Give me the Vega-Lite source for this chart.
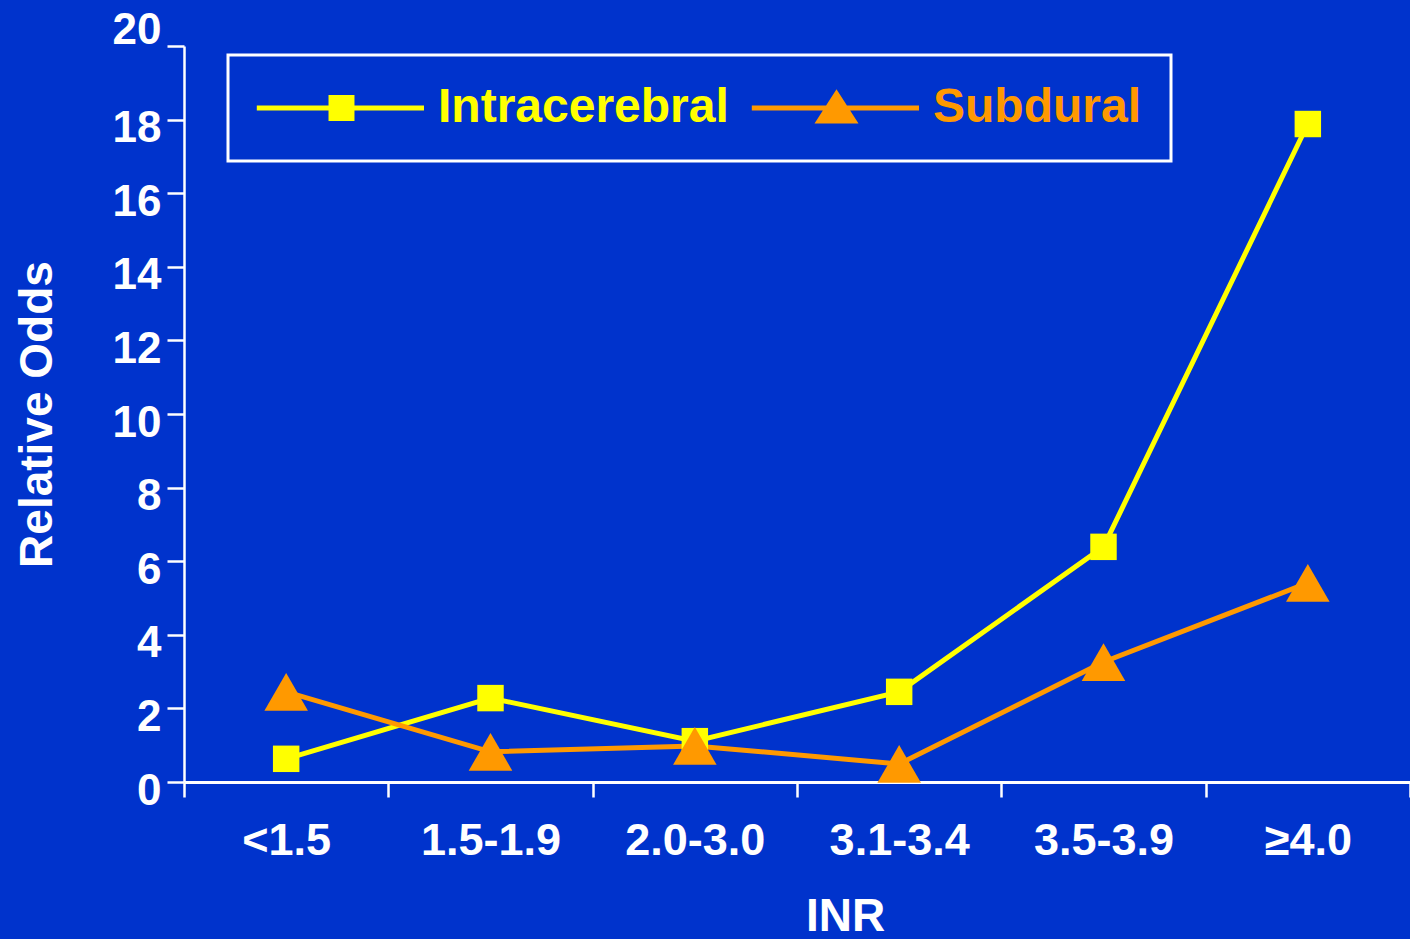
{
  "$schema": "https://vega.github.io/schema/vega-lite/v6.json",
  "autosize": "none",
  "width": 1226,
  "height": 736,
  "padding": {"left": 184, "top": 46, "right": 0, "bottom": 157},
  "background": "#0033CC",
  "config": {
    "view": {"stroke": null},
    "font": "Liberation Sans"
  },
  "data": {
    "values": [
      {"INR": "<1.5", "series": "Intracerebral", "odds": 0.63},
      {"INR": "1.5-1.9", "series": "Intracerebral", "odds": 2.28},
      {"INR": "2.0-3.0", "series": "Intracerebral", "odds": 1.11},
      {"INR": "3.1-3.4", "series": "Intracerebral", "odds": 2.45},
      {"INR": "3.5-3.9", "series": "Intracerebral", "odds": 6.39},
      {"INR": "≥4.0", "series": "Intracerebral", "odds": 17.88},
      {"INR": "<1.5", "series": "Subdural", "odds": 2.45},
      {"INR": "1.5-1.9", "series": "Subdural", "odds": 0.82},
      {"INR": "2.0-3.0", "series": "Subdural", "odds": 0.98},
      {"INR": "3.1-3.4", "series": "Subdural", "odds": 0.49},
      {"INR": "3.5-3.9", "series": "Subdural", "odds": 3.26},
      {"INR": "≥4.0", "series": "Subdural", "odds": 5.41}
    ]
  },
  "encoding": {
    "x": {
      "field": "INR",
      "type": "nominal",
      "sort": ["<1.5", "1.5-1.9", "2.0-3.0", "3.1-3.4", "3.5-3.9", "≥4.0"],
      "scale": {"type": "band", "paddingInner": 0, "paddingOuter": 0},
      "axis": {
        "title": "INR",
        "titleColor": "white",
        "titleFont": "Liberation Sans",
        "titleFontSize": 46,
        "titleFontWeight": "bold",
        "titleBaseline": "top",
        "titleX": 661,
        "titleY": 112,
        "labelAngle": 0,
        "labelColor": "white",
        "labelFont": "Liberation Sans",
        "labelFontSize": 45,
        "labelFontWeight": "bold",
        "labelPadding": 21,
        "tickBand": "extent",
        "tickColor": "white",
        "tickSize": 15,
        "tickWidth": 2.5,
        "domainColor": "white",
        "domainWidth": 3,
        "grid": false
      }
    },
    "y": {
      "field": "odds",
      "type": "quantitative",
      "scale": {"domain": [0, 20], "nice": false},
      "axis": {
        "title": "Relative Odds",
        "titleColor": "white",
        "titleFont": "Liberation Sans",
        "titleFontSize": 46,
        "titleFontWeight": "bold",
        "titleBaseline": "top",
        "titleX": -169,
        "titleY": 368,
        "titleAngle": -90,
        "values": [0, 2, 4, 6, 8, 10, 12, 14, 16, 18, 20],
        "labelColor": "white",
        "labelFont": "Liberation Sans",
        "labelFontSize": 44,
        "labelFontWeight": "bold",
        "labelPadding": 6,
        "labelOffset": {"condition": {"test": "datum.value == 20", "value": -16}, "value": 9},
        "tickColor": "white",
        "tickSize": 17,
        "tickWidth": 2.5,
        "domainColor": "white",
        "domainWidth": 2.5,
        "grid": false
      }
    }
  },
  "layer": [
    {
      "mark": {"type": "line", "strokeWidth": 5},
      "encoding": {
        "color": {
          "field": "series",
          "type": "nominal",
          "scale": {"domain": ["Intracerebral", "Subdural"], "range": ["#FFFF00", "#FF9900"]},
          "legend": {
            "title": null,
            "orient": "none",
            "legendX": 44,
            "legendY": 9,
            "direction": "horizontal",
            "padding": 29,
            "columnPadding": 22,
            "labelOffset": 133,
            "labelFont": "Liberation Sans",
            "labelFontSize": 48,
            "labelFontWeight": "bold",
            "labelLimit": 0,
            "symbolSize": 1936,
            "symbolStrokeWidth": 0,
            "encode": {
              "legend": {"update": {"stroke": {"value": "white"}, "strokeWidth": {"value": 3}}},
              "symbols": {
                "update": {
                  "shape": {"signal": "datum.value === 'Intracerebral' ? 'M-1.1,-0.11H6.5V0.11H-1.1Z M2.16,-0.59H3.34V0.59H2.16Z' : 'M-1.1,-0.11H6.5V0.11H-1.1Z M2.75,-0.85L3.75,0.7H1.75Z'"},
                  "fill": {"signal": "datum.value === 'Intracerebral' ? '#FFFF00' : '#FF9900'"},
                  "stroke": {"value": "transparent"},
                  "strokeWidth": {"value": 0},
                  "opacity": {"value": 1}
                }
              },
              "labels": {
                "update": {
                  "fill": {"signal": "datum.value === 'Intracerebral' ? '#FFFF00' : '#FF9900'"}
                }
              }
            }
          }
        }
      }
    },
    {
      "transform": [{"filter": "datum.series === 'Intracerebral'"}],
      "mark": {"type": "point", "shape": "square", "size": 700, "filled": true, "color": "#FFFF00", "opacity": 1}
    },
    {
      "transform": [{"filter": "datum.series === 'Subdural'"}],
      "mark": {"type": "point", "shape": "triangle-up", "size": 1900, "filled": true, "color": "#FF9900", "opacity": 1}
    }
  ]
}
